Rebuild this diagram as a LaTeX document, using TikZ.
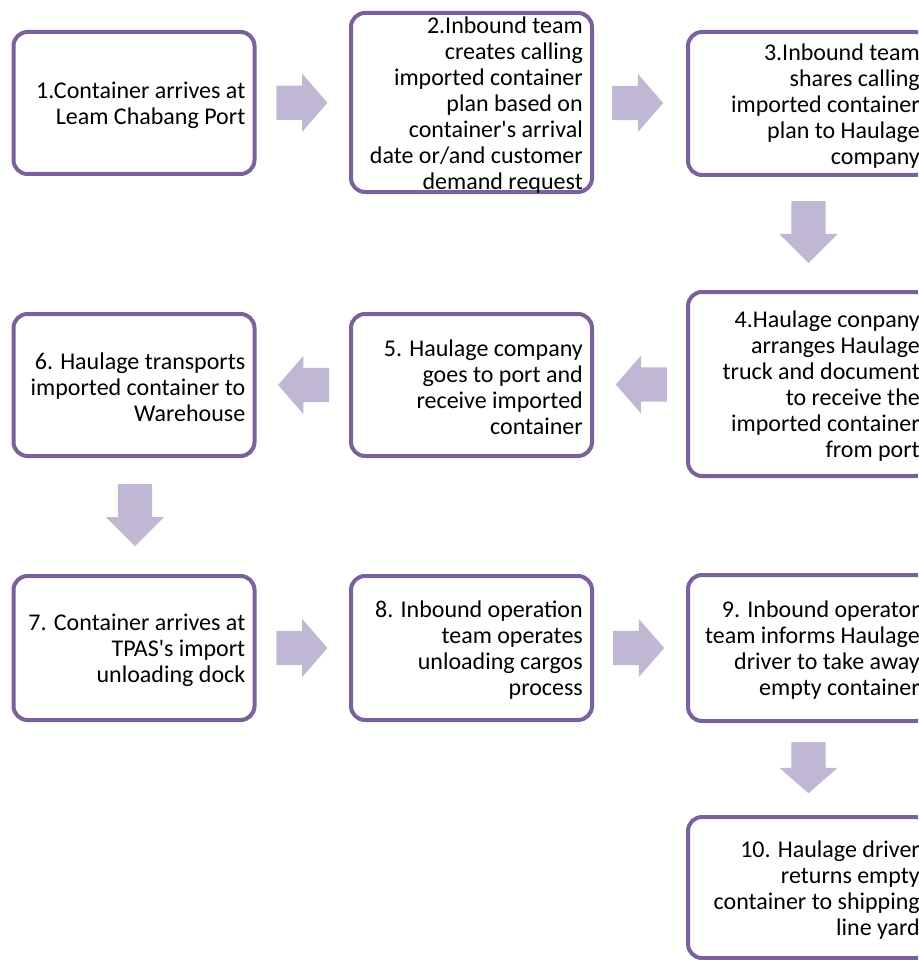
\documentclass[tikz,border=0pt]{standalone}
\usepackage{fontspec}
\setmainfont{Carlito}[Ligatures=TeXOff]
\usetikzlibrary{shapes.arrows,calc}
\definecolor{boxline}{RGB}{122,97,155}
\definecolor{arrowfill}{RGB}{191,183,212}
\tikzset{
  stepbox/.style={draw=boxline, line width=4pt, rounded corners=14pt, fill=white,
    minimum width=241pt, inner sep=0pt},
  steptext/.style={anchor=east, align=right, inner sep=0pt, xshift=-11pt, yshift=-2.5pt,
    font=\fontsize{24}{26}\selectfont, text=black},
  blockarrow/.style={single arrow, fill=arrowfill, draw=none, inner xsep=0pt,
    inner ysep=17pt, minimum height=51pt, single arrow head extend=12pt,
    single arrow tip angle=98, anchor=tail},
  longarrow/.style={blockarrow, minimum height=62pt, single arrow tip angle=90}
}
\begin{document}
\begin{tikzpicture}[x=1pt,y=-1pt]
\path[use as bounding box] (0,0) rectangle (918,960);
\clip (0,0) rectangle (918,960);
% boxes
\node[stepbox, minimum height=142pt] (b1) at (134,103) {};
\node[stepbox, minimum height=179pt] (b2) at (471.5,102.5) {};
\node[stepbox, minimum height=143pt] (b3) at (808.5,103.5) {};
\node[stepbox, minimum height=184pt] (b4) at (808.5,384) {};
\node[stepbox, minimum height=142pt] (b5) at (471.5,385) {};
\node[stepbox, minimum height=142pt] (b6) at (134,385) {};
\node[stepbox, minimum height=144pt] (b7) at (134,648) {};
\node[stepbox, minimum height=144pt] (b8) at (471.5,648) {};
\node[stepbox, minimum height=146pt] (b9) at (808.5,648) {};
\node[stepbox, minimum height=141pt] (b10) at (808.5,887.5) {};
% texts
\node[steptext] (t1) at (b1.east) {1.Container arrives at\\Leam Chabang Port};
\node[steptext] (t2) at (b2.east) {2.Inbound team\\creates calling\\imported container\\plan based on\\container's arrival\\date or/and customer\\demand request};
\node[steptext] (t3) at (b3.east) {3.Inbound team\\shares calling\\imported container\\plan to Haulage\\company};
\node[steptext] (t4) at (b4.east) {4.Haulage conpany\\arranges Haulage\\truck and document\\to receive the\\imported container\\from port};
\node[steptext] (t5) at (b5.east) {5. Haulage company\\goes to port and\\receive imported\\container};
\node[steptext] (t6) at (b6.east) {6. Haulage transports\\imported container to\\Warehouse};
\node[steptext] (t7) at (b7.east) {7. Container arrives at\\TPAS's import\\unloading dock};
\node[steptext] (t8) at (b8.east) {8. Inbound operation\\team operates\\unloading cargos\\process};
\node[steptext] (t9) at (b9.east) {9. Inbound operator\\team informs Haulage\\driver to take away\\empty container};
\node[steptext] (t10) at (b10.east) {10. Haulage driver\\returns empty\\container to shipping\\line yard};
% arrows (placed by their tails)
\node[blockarrow] (a12) at ($(b1.east)!0.5!(b2.west)+(-26.5,0)$) {};
\node[blockarrow] (a23) at ($(b2.east)!0.5!(b3.west)+(-28,0)$) {};
\node[longarrow, rotate=-90] (a34) at ($(b3.south)!0.5!(b4.north)+(0,-32.5)$) {};
\node[blockarrow, rotate=180] (a45) at ($(b5.east)!0.5!(b4.west)+(27,0)$) {};
\node[blockarrow, rotate=180] (a56) at ($(b6.east)!0.5!(b5.west)+(26.5,0)$) {};
\node[longarrow, rotate=-90] (a67) at ($(b6.south)!0.5!(b7.north)+(1,-32)$) {};
\node[blockarrow] (a78) at ($(b7.east)!0.5!(b8.west)+(-26.5,0)$) {};
\node[blockarrow] (a89) at ($(b8.east)!0.5!(b9.west)+(-27,0)$) {};
\node[blockarrow, rotate=-90] (a910) at ($(b9.south)!0.5!(b10.north)+(0,-27)$) {};
\end{tikzpicture}
\end{document}
